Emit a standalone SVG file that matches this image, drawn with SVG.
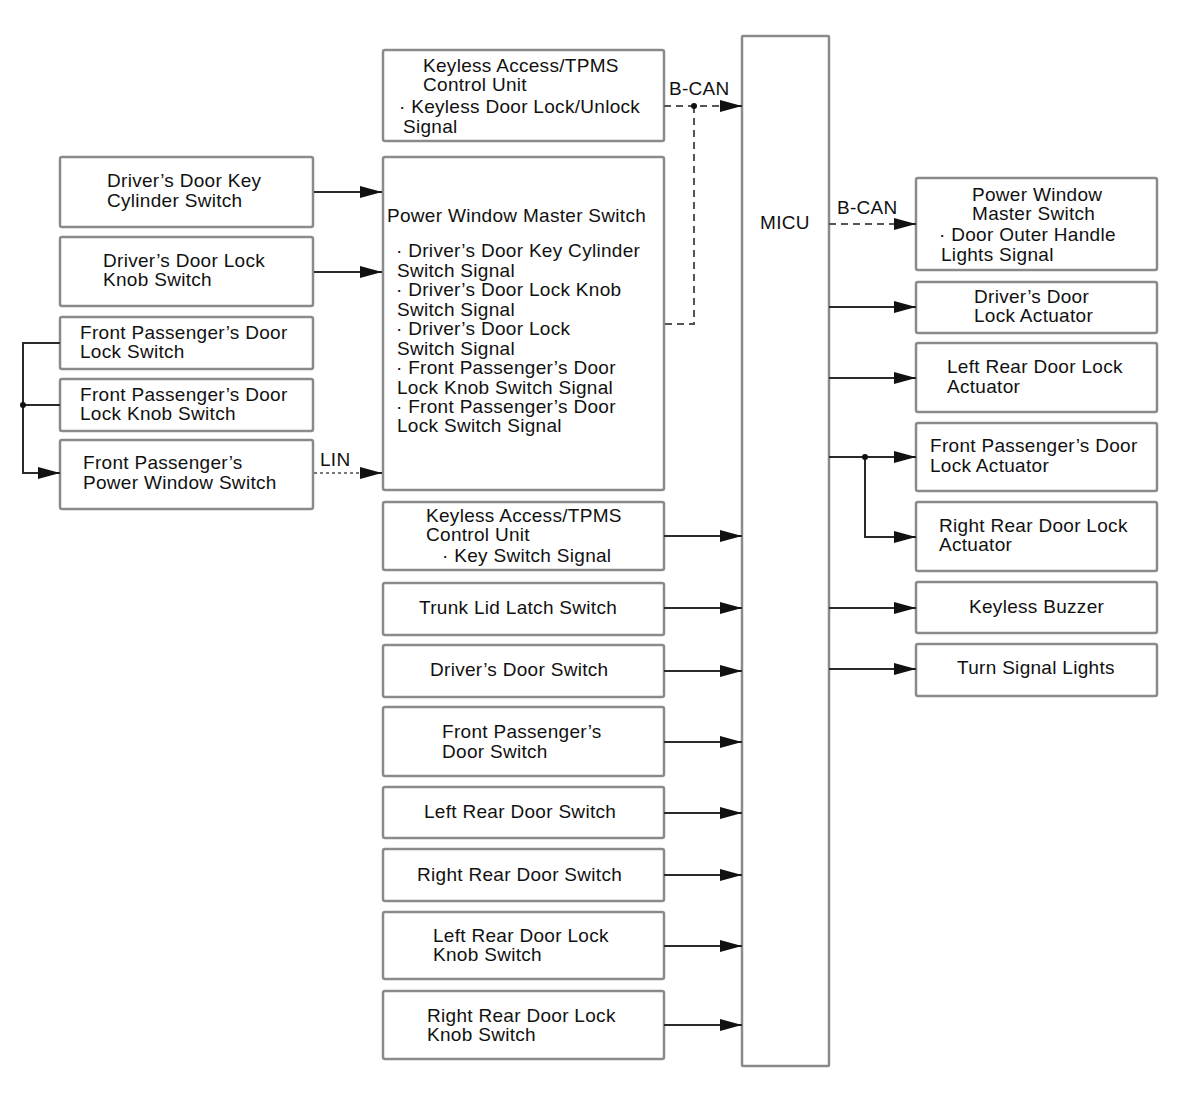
<svg xmlns="http://www.w3.org/2000/svg" width="1200" height="1103" viewBox="0 0 1200 1103">
<style>
.box{fill:#fff;stroke:#8a8a8a;stroke-width:2.5}
text{font-family:"Liberation Sans",Arial,sans-serif;font-size:19px;letter-spacing:0.3px;fill:#111}
.ln{fill:none;stroke:#2a2a2a;stroke-width:2}
.dash{fill:none;stroke:#555;stroke-width:2;stroke-dasharray:7 5}
.dot{fill:none;stroke:#777;stroke-width:2;stroke-dasharray:3 3}
</style>
<defs>
<marker id="ah" markerUnits="userSpaceOnUse" markerWidth="22" markerHeight="12" refX="22" refY="6" orient="auto">
<path d="M0,0 L22,6 L0,12 z" fill="#111"/>
</marker>
</defs>
<rect width="1200" height="1103" fill="#fff"/>

<g id="micu"><rect class="box" x="742" y="36" width="87" height="1030" rx="1"/><text x="760" y="229">MICU</text></g>

<g id="keyless1"><rect class="box" x="383" y="50" width="281" height="91" rx="2"/>
<text x="423" y="72">Keyless Access/TPMS</text><text x="423" y="91">Control Unit</text>
<text x="399" y="113">· Keyless Door Lock/Unlock</text><text x="403" y="133">Signal</text></g>

<g id="pwms"><rect class="box" x="383" y="157" width="281" height="333" rx="2"/>
<text x="387" y="222">Power Window Master Switch</text>
<text x="396" y="257">· Driver’s Door Key Cylinder</text>
<text x="397" y="277">Switch Signal</text>
<text x="396" y="296">· Driver’s Door Lock Knob</text>
<text x="397" y="316">Switch Signal</text>
<text x="396" y="335">· Driver’s Door Lock</text>
<text x="397" y="355">Switch Signal</text>
<text x="396" y="374">· Front Passenger’s Door</text>
<text x="397" y="394">Lock Knob Switch Signal</text>
<text x="396" y="413">· Front Passenger’s Door</text>
<text x="397" y="432">Lock Switch Signal</text></g>

<g id="keyless2"><rect class="box" x="383" y="502" width="281" height="68" rx="2"/>
<text x="426" y="522">Keyless Access/TPMS</text><text x="426" y="541">Control Unit</text>
<text x="442" y="562">· Key Switch Signal</text></g>

<g id="trunk"><rect class="box" x="383" y="583" width="281" height="52" rx="2"/><text x="419" y="614">Trunk Lid Latch Switch</text></g>
<g id="dds"><rect class="box" x="383" y="645" width="281" height="52" rx="2"/><text x="430" y="676">Driver’s Door Switch</text></g>
<g id="fpds"><rect class="box" x="383" y="707" width="281" height="69" rx="2"/><text x="442" y="738">Front Passenger’s</text><text x="442" y="758">Door Switch</text></g>
<g id="lrds"><rect class="box" x="383" y="787" width="281" height="51" rx="2"/><text x="424" y="818">Left Rear Door Switch</text></g>
<g id="rrds"><rect class="box" x="383" y="849" width="281" height="52" rx="2"/><text x="417" y="881">Right Rear Door Switch</text></g>
<g id="lrdlk"><rect class="box" x="383" y="912" width="281" height="67" rx="2"/><text x="433" y="942">Left Rear Door Lock</text><text x="433" y="961">Knob Switch</text></g>
<g id="rrdlk"><rect class="box" x="383" y="991" width="281" height="68" rx="2"/><text x="427" y="1022">Right Rear Door Lock</text><text x="427" y="1041">Knob Switch</text></g>

<g id="ddkc"><rect class="box" x="60" y="157" width="253" height="70" rx="2"/><text x="107" y="187">Driver’s Door Key</text><text x="107" y="207">Cylinder Switch</text></g>
<g id="ddlk"><rect class="box" x="60" y="237" width="253" height="69" rx="2"/><text x="103" y="267">Driver’s Door Lock</text><text x="103" y="286">Knob Switch</text></g>
<g id="fpdls"><rect class="box" x="60" y="317" width="253" height="52" rx="2"/><text x="80" y="339">Front Passenger’s Door</text><text x="80" y="358">Lock Switch</text></g>
<g id="fpdlk"><rect class="box" x="60" y="379" width="253" height="52" rx="2"/><text x="80" y="401">Front Passenger’s Door</text><text x="80" y="420">Lock Knob Switch</text></g>
<g id="fppws"><rect class="box" x="60" y="440" width="253" height="69" rx="2"/><text x="83" y="469">Front Passenger’s</text><text x="83" y="489">Power Window Switch</text></g>

<g id="rpwms"><rect class="box" x="916" y="178" width="241" height="92" rx="2"/>
<text x="972" y="201">Power Window</text><text x="972" y="220">Master Switch</text>
<text x="939" y="241">· Door Outer Handle</text><text x="941" y="261">Lights Signal</text></g>
<g id="ddla"><rect class="box" x="916" y="282" width="241" height="51" rx="2"/><text x="974" y="303">Driver’s Door</text><text x="974" y="322">Lock Actuator</text></g>
<g id="lrdla"><rect class="box" x="916" y="343" width="241" height="69" rx="2"/><text x="947" y="373">Left Rear Door Lock</text><text x="947" y="393">Actuator</text></g>
<g id="fpdla"><rect class="box" x="916" y="423" width="241" height="68" rx="2"/><text x="930" y="452">Front Passenger’s Door</text><text x="930" y="472">Lock Actuator</text></g>
<g id="rrdla"><rect class="box" x="916" y="502" width="241" height="69" rx="2"/><text x="939" y="532">Right Rear Door Lock</text><text x="939" y="551">Actuator</text></g>
<g id="kb"><rect class="box" x="916" y="582" width="241" height="51" rx="2"/><text x="969" y="613">Keyless Buzzer</text></g>
<g id="tsl"><rect class="box" x="916" y="644" width="241" height="52" rx="2"/><text x="957" y="674">Turn Signal Lights</text></g>

<g id="connectors">
<line class="ln" x1="314" y1="192" x2="382" y2="192" marker-end="url(#ah)"/>
<line class="ln" x1="314" y1="272" x2="382" y2="272" marker-end="url(#ah)"/>
<line class="dot" x1="314" y1="473" x2="360" y2="473"/>
<line class="ln" x1="360" y1="473" x2="382" y2="473" marker-end="url(#ah)"/>
<text x="320" y="466">LIN</text>
<polyline class="ln" points="60,343 23,343 23,473 60,473" marker-end="url(#ah)"/>
<line class="ln" x1="23" y1="405" x2="60" y2="405"/>
<circle cx="23" cy="405" r="3" fill="#111"/>

<line class="dash" x1="664" y1="106" x2="722" y2="106"/>
<line class="ln" x1="720" y1="106" x2="742" y2="106" marker-end="url(#ah)"/>
<polyline class="dash" points="694,106 694,324 664,324"/>
<circle cx="694" cy="106" r="3" fill="#111"/>
<text x="669" y="95">B-CAN</text>

<line class="ln" x1="664" y1="536" x2="742" y2="536" marker-end="url(#ah)"/>
<line class="ln" x1="664" y1="608" x2="742" y2="608" marker-end="url(#ah)"/>
<line class="ln" x1="664" y1="671" x2="742" y2="671" marker-end="url(#ah)"/>
<line class="ln" x1="664" y1="742" x2="742" y2="742" marker-end="url(#ah)"/>
<line class="ln" x1="664" y1="813" x2="742" y2="813" marker-end="url(#ah)"/>
<line class="ln" x1="664" y1="875" x2="742" y2="875" marker-end="url(#ah)"/>
<line class="ln" x1="664" y1="946" x2="742" y2="946" marker-end="url(#ah)"/>
<line class="ln" x1="664" y1="1025" x2="742" y2="1025" marker-end="url(#ah)"/>

<line class="dash" x1="829" y1="224" x2="898" y2="224"/>
<line class="ln" x1="894" y1="224" x2="916" y2="224" marker-end="url(#ah)"/>
<text x="837" y="214">B-CAN</text>
<line class="ln" x1="829" y1="307" x2="916" y2="307" marker-end="url(#ah)"/>
<line class="ln" x1="829" y1="378" x2="916" y2="378" marker-end="url(#ah)"/>
<line class="ln" x1="829" y1="457" x2="916" y2="457" marker-end="url(#ah)"/>
<polyline class="ln" points="865,457 865,537 916,537" marker-end="url(#ah)"/>
<circle cx="865" cy="457" r="3" fill="#111"/>
<line class="ln" x1="829" y1="608" x2="916" y2="608" marker-end="url(#ah)"/>
<line class="ln" x1="829" y1="669" x2="916" y2="669" marker-end="url(#ah)"/>
</g>
</svg>
